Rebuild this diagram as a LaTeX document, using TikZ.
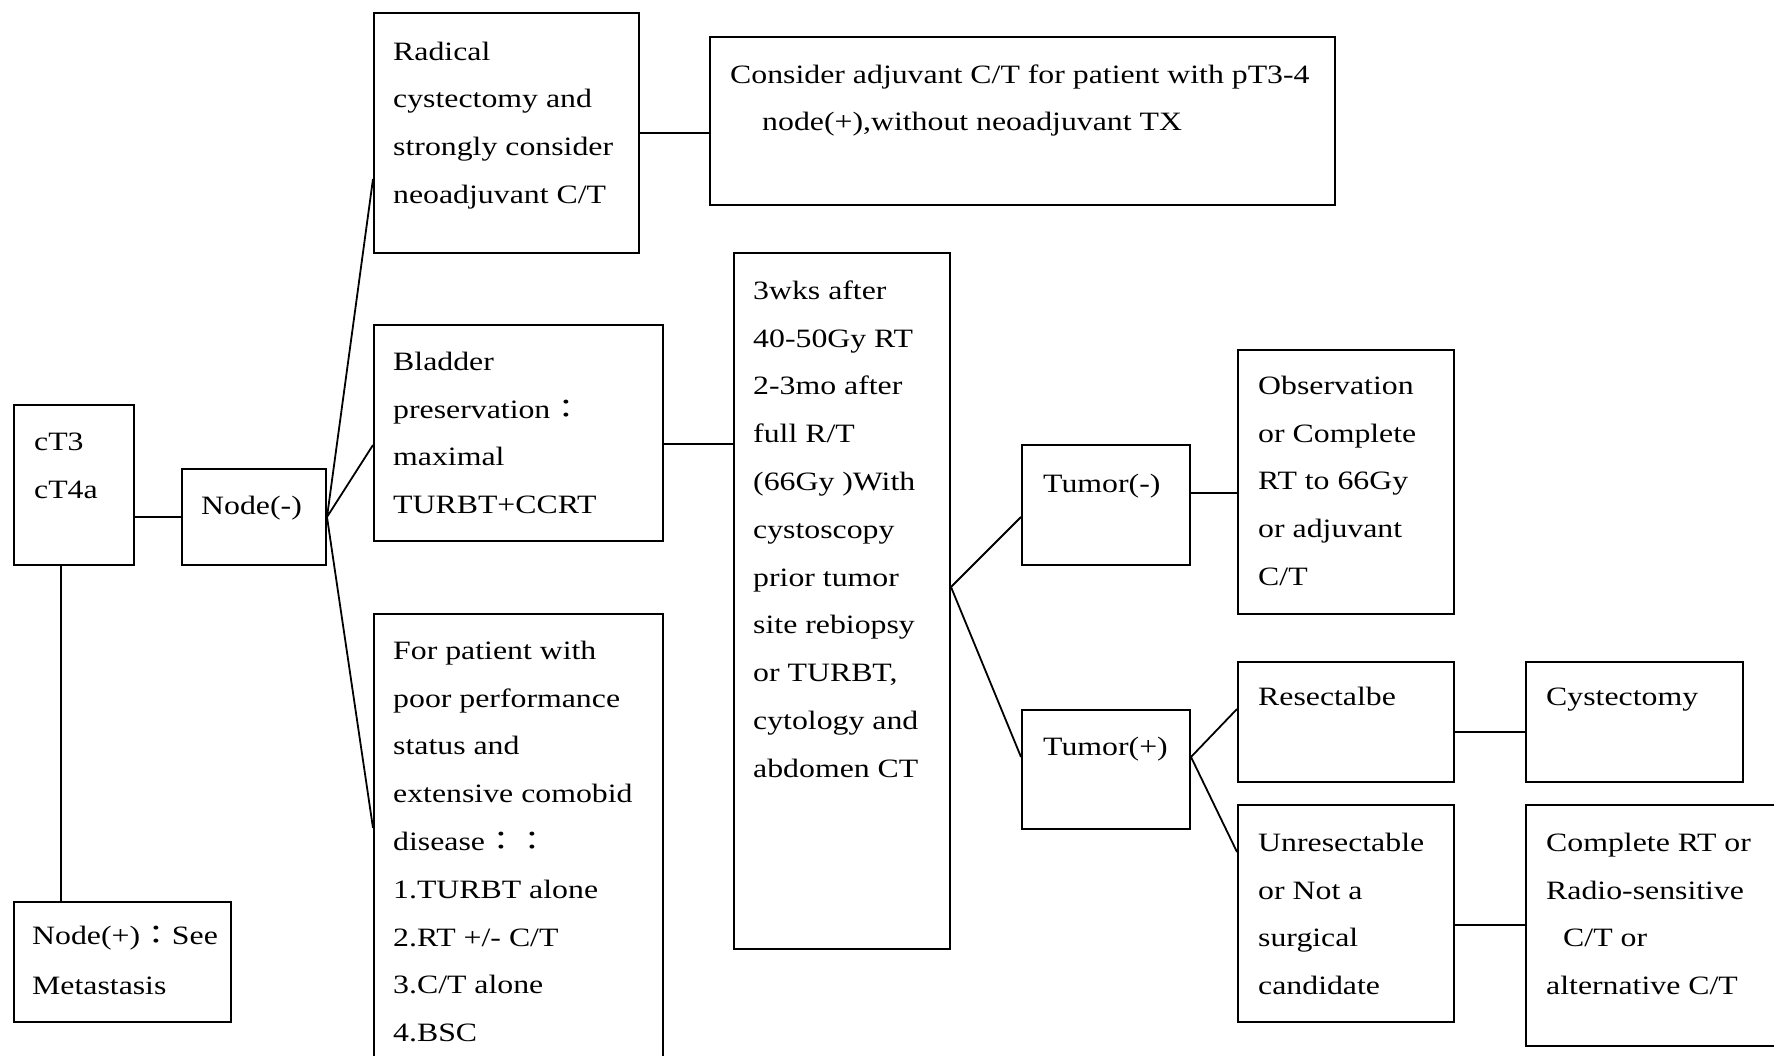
\documentclass[tikz,border=0pt]{standalone}
\usepackage{fontspec}
\setmainfont{Liberation Serif}[FakeStretch=1.2]
\newfontfamily\cjk{Noto Sans CJK TC}[FakeStretch=1.2]
\usetikzlibrary{calc}
\newcommand{\tst}{\rule{0pt}{20pt}}
\newcommand{\fwc}{{\cjk ：}}
\begin{document}
\begin{tikzpicture}[x=1pt,y=-1pt,
  box/.style={draw, line width=2pt, inner sep=0pt, anchor=north west},
  txt/.style={inner sep=0pt, anchor=north west, align=left,
    font=\fontsize{26.5}{47.8}\selectfont},
  link/.style={line width=1.8pt}]
\useasboundingbox (0,0) rectangle (1774,1056);
\fill[white] (0,0) rectangle (1774,1056);
\clip (0,0) rectangle (1774,1056);

% boxes
\node[box, minimum width=120pt, minimum height=160pt] (A) at (13,404) {};
\node[box, minimum width=144pt, minimum height=96pt]  (B) at (181,468) {};
\node[box, minimum width=217pt, minimum height=120pt] (C) at (13,901) {};
\node[box, minimum width=265pt, minimum height=240pt] (D) at (373,12) {};
\node[box, minimum width=625pt, minimum height=168pt] (E) at (709,36) {};
\node[box, minimum width=289pt, minimum height=216pt] (F) at (373,324) {};
\node[box, minimum width=289pt, minimum height=470pt] (G) at (373,613) {};
\node[box, minimum width=216pt, minimum height=696pt] (H) at (733,252) {};
\node[box, minimum width=168pt, minimum height=120pt] (I) at (1021,444) {};
\node[box, minimum width=168pt, minimum height=119pt] (J) at (1021,709) {};
\node[box, minimum width=216pt, minimum height=264pt] (K) at (1237,349) {};
\node[box, minimum width=216pt, minimum height=120pt] (L) at (1237,661) {};
\node[box, minimum width=216pt, minimum height=217pt] (M) at (1237,804) {};
\node[box, minimum width=217pt, minimum height=120pt] (N) at (1525,661) {};
\node[box, minimum width=290pt, minimum height=241pt] (O) at (1525,804) {};

% texts
\node[txt] (At) at ($(A.north west)+(21,26)$) {\tst cT3\\cT4a};
\node[txt] (Bt) at ($(B.north west)+(20,26)$) {\tst Node(-)};
\node[txt] (Ct) at ($(C.north west)+(19,23)$) {\tst Node(+)\fwc See\\[2pt]Metastasis};
\node[txt] (Dt) at ($(D.north west)+(20,28)$) {\tst Radical\\cystectomy and\\strongly consider\\neoadjuvant C/T};
\node[txt] (Et) at ($(E.north west)+(21,27)$) {\tst Consider adjuvant C/T for patient with pT3-4\\\hspace*{32pt}node(+),without neoadjuvant TX};
\node[txt] (Ft) at ($(F.north west)+(20,26)$) {\tst Bladder\\preservation\fwc\\maximal\\TURBT+CCRT};
\node[txt] (Gt) at ($(G.north west)+(20,26)$) {\tst For patient with\\poor performance\\status and\\extensive comobid\\disease\fwc\fwc\\1.TURBT alone\\2.RT +/- C/T\\3.C/T alone\\4.BSC};
\node[txt] (Ht) at ($(H.north west)+(20,27)$) {\tst 3wks after\\40-50Gy RT\\2-3mo after\\full R/T\\(66Gy )With\\cystoscopy\\prior tumor\\site rebiopsy\\or TURBT,\\cytology and\\abdomen CT};
\node[txt] (It) at ($(I.north west)+(22,28)$) {\tst Tumor(-)};
\node[txt] (Jt) at ($(J.north west)+(22,26)$) {\tst Tumor(+)};
\node[txt] (Kt) at ($(K.north west)+(21,25)$) {\tst Observation\\or Complete\\RT to 66Gy\\or adjuvant\\C/T};
\node[txt] (Lt) at ($(L.north west)+(21,24)$) {\tst Resectalbe};
\node[txt] (Mt) at ($(M.north west)+(21,27)$) {\tst Unresectable\\or Not a\\surgical\\candidate};
\node[txt] (Nt) at ($(N.north west)+(21,24)$) {\tst Cystectomy};
\node[txt] (Ot) at ($(O.north west)+(21,27)$) {\tst Complete RT or\\Radio-sensitive\\\hspace*{17pt}C/T or\\alternative C/T};

% connectors
\draw[link] (B.west -| A.east) -- (B.west);
\coordinate (Ab) at ($(A.south west)+(48,0)$);
\draw[link] (Ab) -- (Ab |- C.north);
\draw[link] ($(D.north west)+(0,167)$) -- (B.east) -- ($(F.north west)+(0,121)$);
\draw[link] (B.east) -- ($(G.north west)+(0,215)$);
\draw[link] (D.east) -- (D.east -| E.west);
\coordinate (Fr) at ($(F.north east)+(0,120)$);
\draw[link] (Fr) -- (Fr -| H.west);
\coordinate (Hr) at ($(H.north east)+(0,335)$);
\draw[link] ($(I.north west)+(0,73)$) -- (Hr) -- ($(J.north west)+(0,48)$);
\coordinate (Ir) at ($(I.north east)+(0,49)$);
\draw[link] (Ir) -- (Ir -| K.west);
\coordinate (Jr) at ($(J.north east)+(0,48)$);
\draw[link] ($(L.north west)+(0,48)$) -- (Jr) -- ($(M.north west)+(0,48)$);
\coordinate (Lr) at ($(L.north east)+(0,71)$);
\draw[link] (Lr) -- (Lr -| N.west);
\coordinate (Mr) at ($(M.north east)+(0,121)$);
\draw[link] (Mr) -- (Mr -| O.west);
\end{tikzpicture}
\end{document}
